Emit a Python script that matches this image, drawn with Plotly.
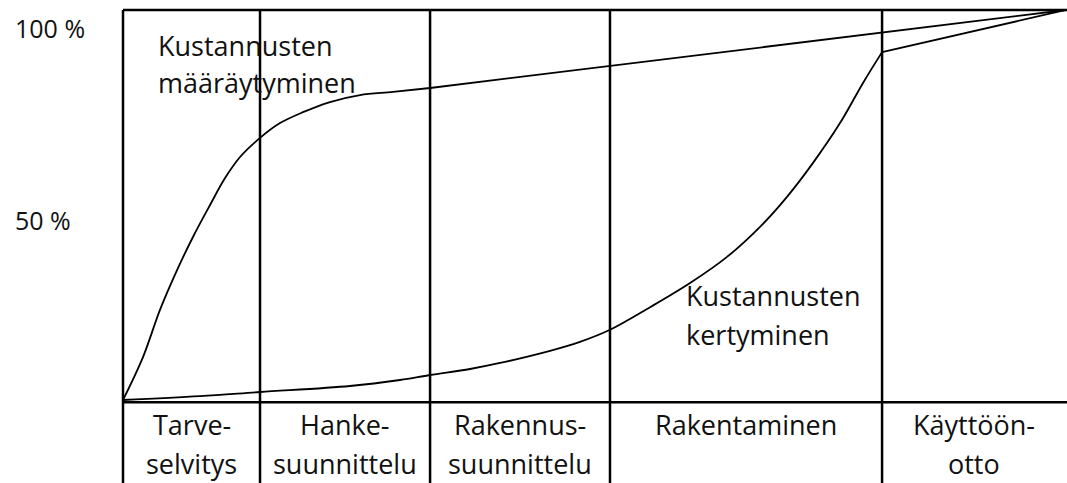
import plotly.graph_objects as go

# x: share of project time (0..100), y: share of total cost (%)
phase_edges = [0, 14.53, 32.56, 51.64, 80.49, 100]
phase_line1 = ["Tarve-", "Hanke-", "Rakennus-", "Rakentaminen", "Käyttöön-"]
phase_line2 = ["selvitys", "suunnittelu", "suunnittelu", "", "otto"]

# Kustannusten määräytyminen
det_x = [0, 2.12, 3.92, 5.73, 7.42, 9.23, 10.82, 12.41, 14.53, 16.65, 19.09, 21.95, 25.13, 28.63, 32.56, 100]
det_y = [0, 11.0, 23.1, 33.3, 41.8, 50.0, 56.9, 62.3, 67.2, 71.0, 73.8, 76.4, 78.2, 79.0, 80.0, 100]

# Kustannusten kertyminen
acc_x = [0, 8.17, 14.53, 24.07, 29.37, 32.56, 36.8, 39.98, 45.28, 48.46, 51.64, 55.89, 60.13, 64.05,
         67.55, 70.41, 73.17, 76.03, 78.47, 80.49, 100]
acc_y = [0, 1.0, 2.05, 3.59, 5.13, 6.41, 7.95, 9.49, 12.6, 14.9, 18.0, 23.8, 30.0, 36.7,
         44.4, 52.1, 60.8, 71.0, 81.3, 89.2, 100]

FONT = "Open Sans"
TXT = dict(family=FONT, size=27, color="#111")
CURVE = dict(color="black", width=1.8)

fig = go.Figure()
# curved parts smoothed, straight tails kept straight
for xs, ys, split in [(det_x, det_y, 14), (acc_x, acc_y, 19)]:
    fig.add_trace(go.Scatter(x=xs[:split + 1], y=ys[:split + 1], mode="lines",
                             line=dict(CURVE, shape="spline", smoothing=1.0),
                             hoverinfo="skip"))
    fig.add_trace(go.Scatter(x=xs[split:], y=ys[split:], mode="lines",
                             line=CURVE, hoverinfo="skip"))

# grid of the phase table
for xe in phase_edges[:-1]:
    fig.add_shape(type="line", x0=xe, x1=xe, y0=-25, y1=100,
                  line=dict(color="black", width=2.5))
fig.add_shape(type="line", x0=0, x1=101, y0=100, y1=100,
              line=dict(color="black", width=2.5))
fig.add_shape(type="line", x0=0, x1=101, y0=-0.6, y1=-0.6,
              line=dict(color="black", width=2.5))

# phase names
for i in range(len(phase_line1)):
    xc = (phase_edges[i] + phase_edges[i + 1]) / 2
    fig.add_annotation(x=xc, y=-6.4, text=phase_line1[i], showarrow=False,
                       xanchor="center", yanchor="middle", font=TXT)
    if phase_line2[i]:
        fig.add_annotation(x=xc, y=-16.2, text=phase_line2[i], showarrow=False,
                           xanchor="center", yanchor="middle", font=TXT)

# curve labels
for txt, xx, yy in [("Kustannusten", 3.5, 91.0), ("määräytyminen", 3.5, 81.3),
                    ("Kustannusten", 59.5, 26.7), ("kertyminen", 59.5, 16.9)]:
    fig.add_annotation(x=xx, y=yy, text=txt, showarrow=False,
                       xanchor="left", yanchor="middle", font=TXT)

# y labels (left of the plot area, so in paper units)
for txt, yy in [("100 %", 95.4), ("50 %", 46.2)]:
    fig.add_annotation(x=-0.111, xref="paper", y=yy, text=txt, showarrow=False,
                       xanchor="left", yanchor="middle",
                       font=dict(family=FONT, size=25, color="#111"))

fig.update_layout(
    width=1067, height=483,
    margin=dict(l=118, r=0, t=5, b=0, autoexpand=False),
    paper_bgcolor="white", plot_bgcolor="white",
    showlegend=False,
    xaxis=dict(range=[-0.53, 100.1], visible=False, fixedrange=True),
    yaxis=dict(range=[-21.28, 101.28], visible=False, fixedrange=True),
)

fig.write_html("out.html", config={"displayModeBar": False},
               post_script="document.body.style.margin = '0';")
